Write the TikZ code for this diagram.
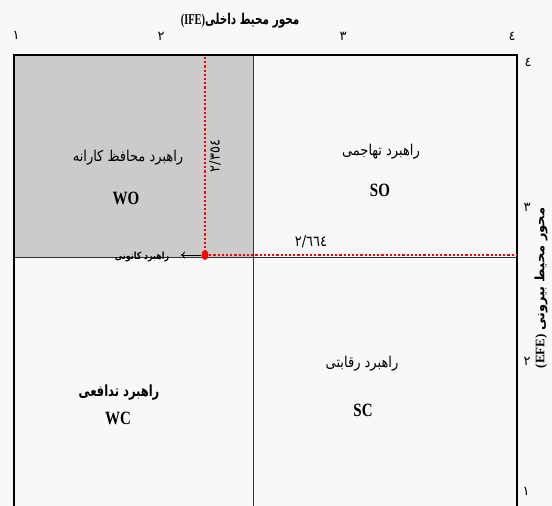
\documentclass[tikz,border=0pt]{standalone}
\usepackage{fontspec}
\setmainfont{Liberation Serif}
\newfontfamily\arabicfont[Script=Arabic]{DejaVu Sans}
\TeXXeTstate=1
\usetikzlibrary{arrows.meta,shapes.geometric}
\definecolor{bgcol}{HTML}{F8F8F8}
\definecolor{quadgrey}{HTML}{CBCBCB}
\definecolor{linegrey}{HTML}{333333}
\begin{document}
\begin{tikzpicture}[x=1pt,y=-1pt,
  frame/.style={line width=2.5pt,black},
  gridline/.style={line width=1pt,linegrey},
  reddots/.style={red,line width=2.2pt,dash pattern=on 2.2pt off 2pt},
  fa/.style={font=\arabicfont\fontsize{13}{15}\selectfont,inner sep=0pt,yscale=1.15,transform shape},
  fab/.style={font=\arabicfont\bfseries\fontsize{14}{16}\selectfont,inner sep=0pt,xscale=0.82,yscale=1.1,transform shape},
  code/.style={font=\bfseries\fontsize{15}{17}\selectfont,inner sep=0pt,yscale=1.25,transform shape},
  tick/.style={font=\arabicfont\fontsize{13}{15}\selectfont,inner sep=0pt},
  axistitle/.style={font=\bfseries\fontsize{13}{15}\selectfont,inner sep=0pt}]
\useasboundingbox (0,0) rectangle (552,506);
\fill[bgcol] (0,0) rectangle (552,506);
\fill[quadgrey] (15,55) rectangle (253,257);
\draw[gridline] (253,55) -- (253,506);
\draw[gridline] (14,257) -- (517,257);
\draw[frame] (14,506) -- (14,55) -- (517,55) -- (517,506);

% axis titles
\node[axistitle,xscale=0.8,yscale=1.15,transform shape] (ifetitle) at (240,21) {(IFE){\arabicfont\beginR محور محیط داخلی\endR}};
\node[axistitle,rotate=90] (efetitle) at (541,288) {(EFE)\ {\arabicfont\beginR محور محیط بیرونی\endR}};

% top ticks
\node[tick] (t1) at (16,35) {١};
\node[tick] (t2) at (161,36) {٢};
\node[tick] (t3) at (343,36) {٣};
\node[tick] (t4) at (512,36) {٤};
% right ticks
\node[tick] (r4) at (528,62) {٤};
\node[tick] (r3) at (527,207) {٣};
\node[tick] (r2) at (527,361) {٢};
\node[tick] (r1) at (526,491) {١};

% quadrant labels
\node[fa] (wolab) at (128,158) {\beginR راهبرد محافظ کارانه\endR};
\node[code] (wo) at (126,198) {WO};
\node[fa] (solab) at (381,152) {\beginR راهبرد تهاجمی\endR};
\node[code] (so) at (380,190) {SO};
\node[fab] (wclab) at (119,393) {\beginR راهبرد تدافعی\endR};
\node[code] (wc) at (118,418) {WC};
\node[fa] (sclab) at (362,364) {\beginR راهبرد رقابتی\endR};
\node[code] (sc) at (363,410) {SC};

% focal point
\coordinate (vtop) at (205,57);
\coordinate (hend) at (517,255);
\coordinate (arrend) at (181,255);
\draw[reddots] (vtop) -- (205,255);
\draw[reddots] (205,255) -- (hend);
\node[ellipse,fill=red,minimum width=7pt,minimum height=10pt,inner sep=0pt] (dot) at (205,255) {};
\draw[line width=0.9pt,-{To[length=4pt,width=7pt]}] (dot.west) -- (arrend);
\node[font=\arabicfont\bfseries\fontsize{9}{11}\selectfont,inner sep=0pt,xscale=0.88,yscale=1.1,transform shape] (focus) at (142,257) {\beginR راهبرد کانونی\endR};

% values
\node[tick,rotate=90,yscale=1.1,transform shape] (v1) at (215,156) {٢/٣٥٤};
\node[tick,yscale=1.15,transform shape] (v2) at (311,242) {٢/٦٦٤};
\end{tikzpicture}
\end{document}
